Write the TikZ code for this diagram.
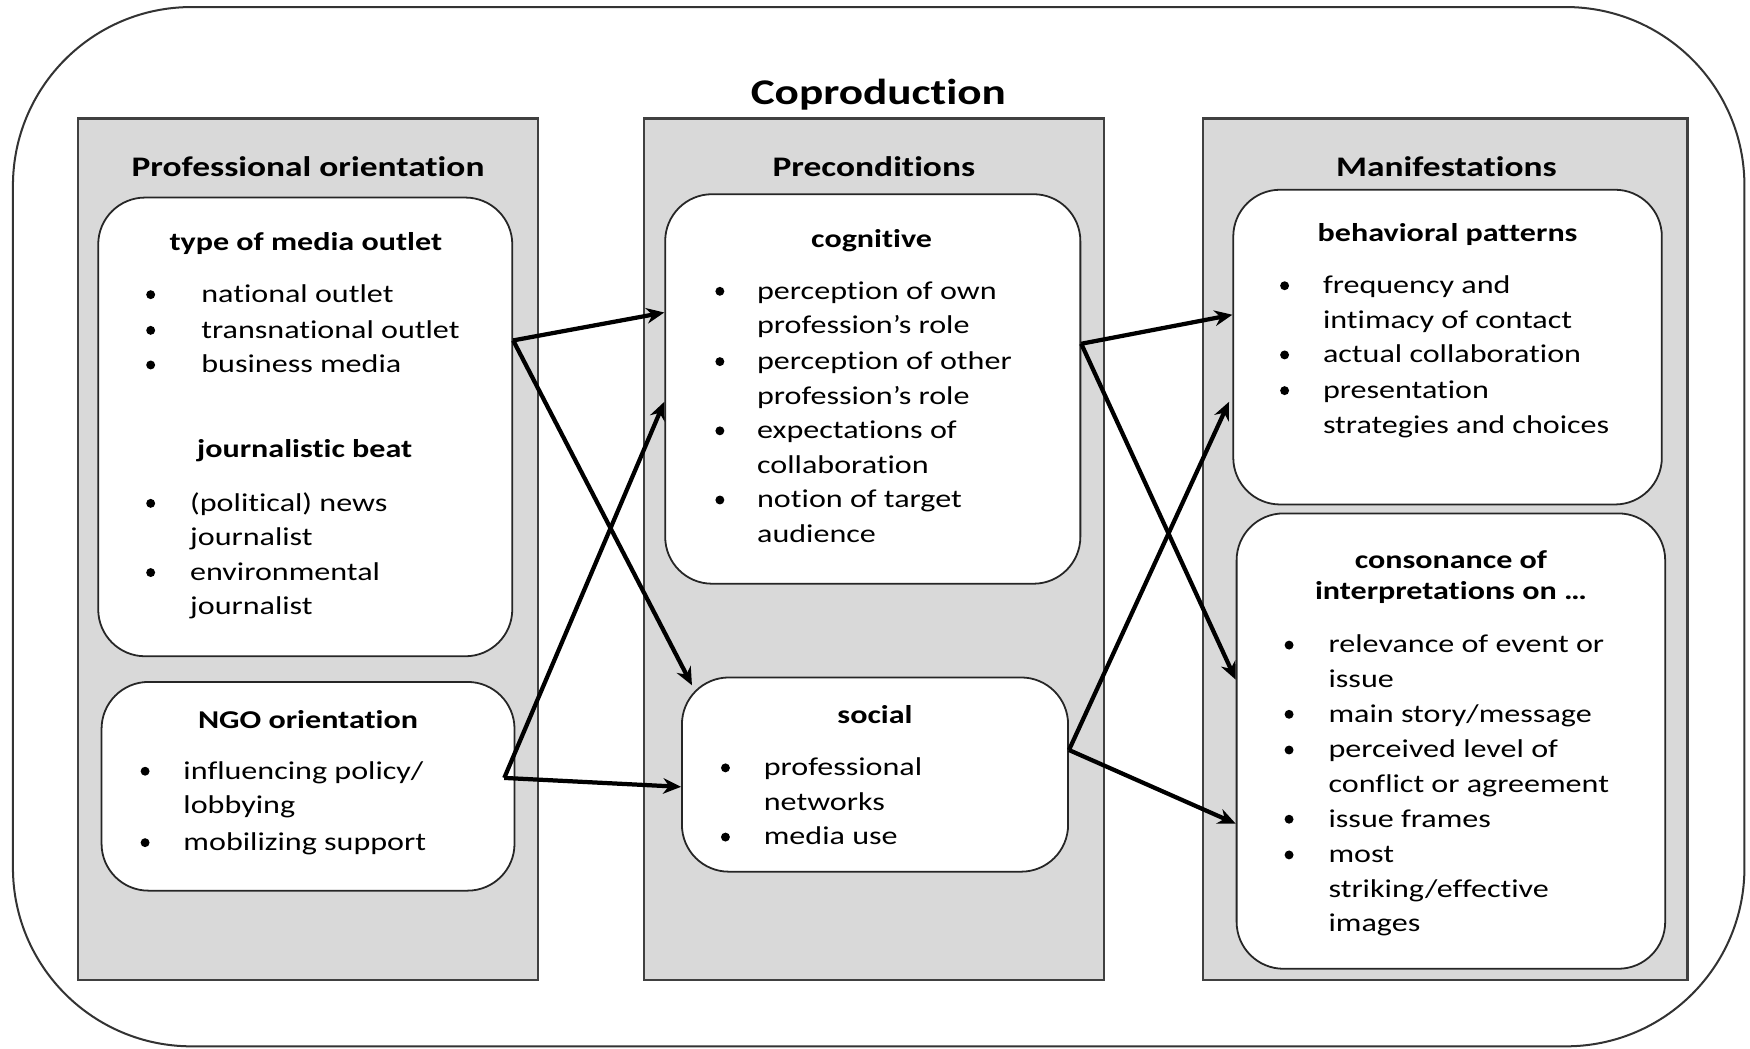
\documentclass[tikz,border=0pt]{standalone}
\usepackage{fontspec}
\setmainfont{Carlito}[FakeStretch=1.25, Ligatures={NoCommon}]
\usetikzlibrary{fit,arrows.meta}
\definecolor{panelgray}{HTML}{D9D9D9}
\tikzset{
  outerbox/.style={draw=black!80, line width=0.9pt, rounded corners=80pt, inner sep=0pt},
  panel/.style={draw=black!75, fill=panelgray, line width=1.1pt, inner sep=0pt},
  ibox/.style={draw=black!85, fill=white, line width=0.8pt, rounded corners=21pt, inner sep=0pt},
  txt/.style={anchor=base west, inner sep=0pt, font=\fontsize{11.5}{14}\selectfont},
  head/.style={anchor=base, inner sep=0pt, font=\bfseries\fontsize{11.5}{14}\selectfont},
  ptitle/.style={anchor=base, inner sep=0pt, font=\bfseries\fontsize{12.7}{16}\selectfont},
  bigtitle/.style={anchor=base, inner sep=0pt, font=\bfseries\fontsize{16.2}{20}\selectfont},
  arr/.style={-{Stealth[length=8pt,width=7pt]}, line width=1.9pt},
  bul/.style={fill=black}
}
\begin{document}
\begin{tikzpicture}[x=0.5pt,y=-0.5pt]
\useasboundingbox (0,0) rectangle (1568,939);
% outer frame
\node[outerbox, fit={(11.6,6.3)(1563,937.5)}] (outer) {};
\node[bigtitle] (coprod) at (787,94) {Coproduction};
% panels
\node[panel, fit={(70,106)(482,878)}] (p1) {};
\node[panel, fit={(577,106)(989,878)}] (p2) {};
\node[panel, fit={(1078,106)(1512,878)}] (p3) {};
\node[ptitle] (p1t) at (276,158) {Professional orientation};
\node[ptitle] (p2t) at (783,158) {Preconditions};
\node[ptitle] (p3t) at (1296,158) {Manifestations};
% inner boxes
\node[ibox, fit={(88,177)(459,588)}] (media) {};
\node[ibox, fit={(91,611)(461,798)}] (ngo) {};
\node[ibox, fit={(596,174)(968,523)}] (cog) {};
\node[ibox, fit={(611,607)(957,781)}] (soc) {};
\node[ibox, fit={(1105,170)(1489,452)}] (beh) {};
\node[ibox, fit={(1108,460)(1492,868)}] (con) {};
% media box text
\node[head] (mediah) at (274,224) {type of media outlet};
\foreach \yy/\s [count=\k] in {271/national outlet,303/transnational outlet,334/business media}
  \node[txt] (mo\k) at (180,\yy) {\s};
\foreach \yy in {271,303,334} \fill[bul] (135,\yy-7) circle[radius=2pt];
\node[head] (beath) at (273,410) {journalistic beat};
\foreach \yy/\s [count=\k] in {458/(political) news,489/journalist,520/environmental,551/journalist}
  \node[txt] (jb\k) at (170,\yy) {\s};
\foreach \yy in {458,520} \fill[bul] (135,\yy-7) circle[radius=2pt];
% NGO box text
\node[head] (ngoh) at (276,653) {NGO orientation};
\foreach \yy/\s [count=\k] in {698/{influencing policy/},729/lobbying,762/mobilizing support}
  \node[txt] (ng\k) at (164,\yy) {\s};
\foreach \yy in {698,762} \fill[bul] (130,\yy-7) circle[radius=2pt];
% cognitive
\node[head] (cogh) at (781,222) {cognitive};
\foreach \yy/\s [count=\k] in {268/perception of own,299/profession’s role,331/perception of other,362/profession’s role,393/expectations of,424/collaboration,455/notion of target,486/audience}
  \node[txt] (cg\k) at (678,\yy) {\s};
\foreach \yy in {268,331,393,455} \fill[bul] (645,\yy-7) circle[radius=2pt];
% social
\node[head] (soch) at (784,648) {social};
\foreach \yy/\s [count=\k] in {695/professional,726/networks,757/media use}
  \node[txt] (sc\k) at (684,\yy) {\s};
\foreach \yy in {695,757} \fill[bul] (650,\yy-7) circle[radius=2pt];
% behavioral
\node[head] (behh) at (1297,216) {behavioral patterns};
\foreach \yy/\s [count=\k] in {263/frequency and,294/intimacy of contact,325/actual collaboration,357/presentation,388/strategies and choices}
  \node[txt] (bh\k) at (1185,\yy) {\s};
\foreach \yy in {263,325,357} \fill[bul] (1151,\yy-7) circle[radius=2pt];
% consonance
\node[head] (conh1) at (1300,509) {consonance of};
\node[head] (conh2) at (1300,537) {interpretations on …};
\foreach \yy/\s [count=\k] in {585/relevance of event or,616/issue,647/main story{/}message,679/perceived level of,710/conflict or agreement,741/issue frames,773/most,804/striking{/}effective,835/images}
  \node[txt] (cn\k) at (1190,\yy) {\s};
\foreach \yy in {585,647,679,741,773} \fill[bul] (1155,\yy-7) circle[radius=2pt];
% connector end points
\coordinate (mOut) at (media.east |- 0,305);
\coordinate (ngoOut) at ([xshift=-5pt]ngo.east |- 0,697);
\coordinate (cogOut) at (cog.east |- 0,308);
\coordinate (socOut) at (soc.east |- 0,672);
\coordinate (cogIn1) at (cog.west |- 0,280);
\coordinate (cogIn2) at (cog.west |- 0,360);
\coordinate (socIn1) at (620,614);
\coordinate (socIn2) at (soc.west |- 0,705);
\coordinate (behIn1) at (beh.west |- 0,282);
\coordinate (behIn2) at ([xshift=-1.5pt]beh.west |- 0,360);
\coordinate (conIn1) at (con.west |- 0,609);
\coordinate (conIn2) at (con.west |- 0,738);
% connectors
\draw[arr] (mOut) -- (cogIn1);
\draw[arr] (mOut) -- (socIn1);
\draw[arr] (ngoOut) -- (cogIn2);
\draw[arr] (ngoOut) -- (socIn2);
\draw[arr] (cogOut) -- (behIn1);
\draw[arr] (cogOut) -- (conIn1);
\draw[arr] (socOut) -- (behIn2);
\draw[arr] (socOut) -- (conIn2);
\end{tikzpicture}
\end{document}
